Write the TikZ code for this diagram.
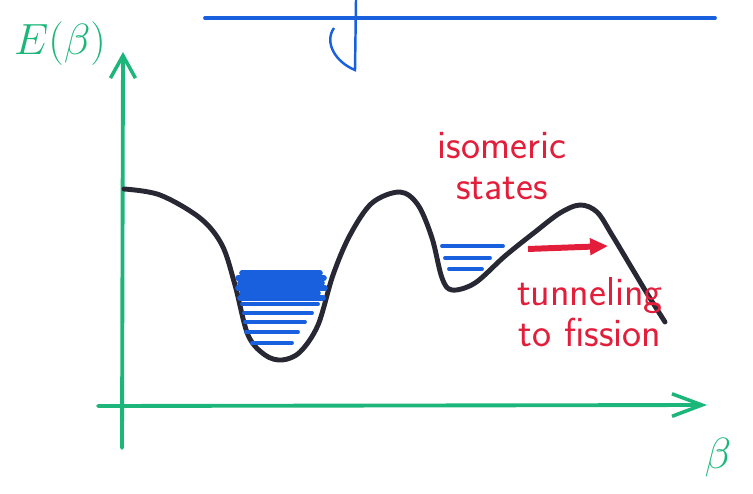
\documentclass[tikz,border=0pt]{standalone}
\usepackage{tikz}
\usetikzlibrary{arrows.meta}

\definecolor{markgreen}{RGB}{28,182,122}
\definecolor{markblue}{RGB}{24,96,222}
\definecolor{markred}{RGB}{226,30,58}
\definecolor{markblack}{RGB}{40,40,52}

\begin{document}
\begin{tikzpicture}[x=0.02cm, y=-0.02cm,
    axis/.style={markgreen, line width=2.2pt, line cap=round},
    barrier/.style={markblack, line width=2.8pt, line cap=round, line join=round},
    level/.style={markblue, line width=2.2pt, line cap=round},
    band/.style={markblue, line width=3.2pt, line cap=round},
    note/.style={markred, font=\sffamily\fontsize{23}{23}\selectfont, align=center}]
    \useasboundingbox (0,0) rectangle (753,493);

    % underline of the (cut off) title
    \draw[markblue, line width=2.2pt, line cap=round] (205,18) -- (715,18);
    \draw[markblue, line width=1.4pt] (356,0) -- (355,70)
        .. controls (335,62) and (324,42) .. (334,28);

    % axes
    \coordinate (ybot) at (122,448);
    \coordinate (ytip) at (123,52);
    \coordinate (xbot) at (98,406);
    \coordinate (xtip) at (707,405);
    \draw[axis, -{Straight Barb[length=0.45cm, width=0.5cm, line width=2pt]}] (ybot) -- (ytip);
    \draw[axis, -{Straight Barb[length=0.6cm, width=0.45cm, line width=2pt]}] (xbot) -- (xtip);
    \node[markgreen, font=\fontsize{28}{30}\selectfont] (elabel) at (60,44) {$E(\beta)$};
    \node[markgreen, font=\fontsize{36}{38}\selectfont] (betalabel) at (718,458) {$\beta$};

    % the barrier
    \draw[barrier] plot[smooth, tension=0.55] coordinates {
        (124,189) (160,195) (200,218) (222,245) (235,285) (248,335)
        (265,355) (282,360) (300,352) (318,325) (333,275) (350,235)
        (372,203) (400,192) (418,205) (432,238) (442,278) (452,290)
        (475,283) (505,256) (535,232) (560,213) (580,205) (597,212)
        (612,235) (630,265) (648,295) (665,322)};

    % levels in the first well
    \foreach \y/\a/\b in {273/242/320,278/238/324,283/240/322,288/238/325,293/242/318,298/240/323}
        \draw[band] (\a,\y) -- (\b,\y);
    \draw[level] (242,304) -- (318,304);
    \draw[level] (244,313) -- (312,313);
    \draw[level] (245,322) -- (305,322);
    \draw[level] (246,332) -- (298,332);
    \draw[level] (252,343) -- (292,343);

    % isomeric levels in the second well
    \draw[level] (442,246) -- (503,246);
    \draw[level] (445,258) -- (490,258);
    \draw[level] (449,269) -- (482,269);

    % labels and the tunneling arrow
    \node[note] (isolabel) at (502,166) {isomeric\\states};
    \coordinate (arrowstart) at (528,249);
    \coordinate (arrowend) at (608,246);
    \draw[markred, line width=3.4pt, -{Triangle[length=0.36cm, width=0.32cm]}] (arrowstart) -- (arrowend);
    \node[note] (tunnellabel) at (590,312) {tunneling\\to fission};
\end{tikzpicture}
\end{document}
